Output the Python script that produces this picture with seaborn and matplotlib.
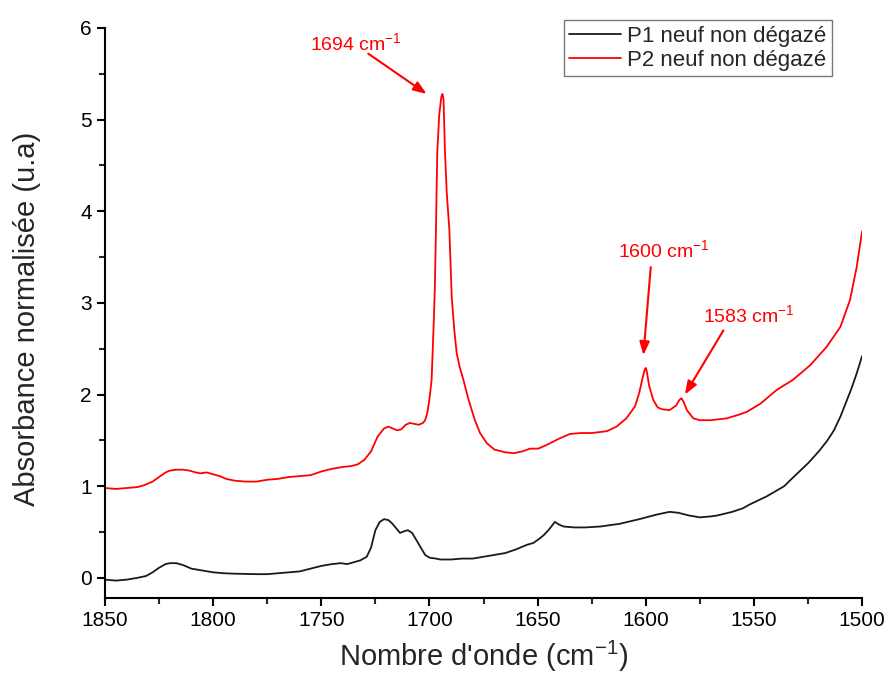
import numpy as np
import pandas as pd
import seaborn as sns
import matplotlib.pyplot as plt
from matplotlib.ticker import MultipleLocator

# nombre d'onde (cm-1) / absorbance, P2 (rouge)
wn_p2 = [1850, 1845, 1840, 1835, 1832, 1828, 1825, 1822, 1820, 1817, 1814, 1811,
         1808, 1806, 1803, 1800, 1797, 1794, 1790, 1785, 1780, 1775, 1770, 1765,
         1760, 1755, 1750, 1745, 1740, 1736, 1733, 1730, 1727, 1724, 1721, 1719,
         1717, 1715, 1713, 1711, 1709, 1707, 1705, 1703, 1702, 1701, 1700, 1699,
         1698, 1697.5, 1697, 1696.4, 1695.5, 1694.5, 1694, 1693.5, 1692.8, 1692,
         1690.8, 1689.7, 1688.5, 1687.4, 1686, 1684.3, 1682, 1679, 1676.6, 1673.5,
         1670, 1665, 1661, 1657, 1653.5, 1649.7, 1645.8, 1640, 1635, 1630, 1625,
         1618, 1613.5, 1609, 1605, 1603, 1601.5, 1600.5, 1600, 1599.5, 1598.5,
         1596.5, 1594.5, 1592.5, 1589, 1586, 1584.5, 1583.5, 1582.5, 1581, 1578,
         1575, 1570, 1562.6, 1557, 1553.4, 1547, 1543, 1539.5, 1532, 1524, 1516.4,
         1510, 1505.6, 1502.5, 1500]
abs_p2 = [0.98, 0.97, 0.98, 0.99, 1.01, 1.05, 1.10, 1.15, 1.17, 1.18, 1.18, 1.17,
          1.15, 1.14, 1.15, 1.13, 1.11, 1.08, 1.06, 1.05, 1.05, 1.07, 1.08, 1.10,
          1.11, 1.12, 1.16, 1.19, 1.21, 1.22, 1.24, 1.29, 1.38, 1.54, 1.63, 1.65,
          1.63, 1.61, 1.62, 1.67, 1.69, 1.68, 1.67, 1.69, 1.72, 1.80, 1.95, 2.16,
          2.80, 3.17, 3.80, 4.63, 5.05, 5.25, 5.28, 5.22, 4.63, 4.20,
          3.80, 3.06, 2.70, 2.45, 2.30, 2.16, 1.95, 1.72, 1.58, 1.47,
          1.40, 1.37, 1.36, 1.38, 1.41, 1.41, 1.45, 1.52, 1.57, 1.58, 1.58,
          1.60, 1.65, 1.74, 1.87, 2.02, 2.18, 2.27, 2.29, 2.25, 2.10,
          1.94, 1.86, 1.84, 1.83, 1.88, 1.94, 1.96, 1.92, 1.83, 1.74,
          1.72, 1.72, 1.74, 1.78, 1.81, 1.90, 1.98, 2.05, 2.16, 2.32, 2.52,
          2.74, 3.03, 3.39, 3.78]

# P1 (noir)
wn_p1 = [1850, 1845, 1840, 1835, 1831, 1828, 1825, 1822, 1820, 1817, 1814, 1810,
         1805, 1800, 1795, 1790, 1780, 1775, 1770, 1765, 1760, 1755, 1750, 1745,
         1741, 1738, 1735, 1732, 1729, 1727, 1725, 1723, 1721, 1719, 1717.5, 1715,
         1713.6, 1711.5, 1710, 1708, 1706, 1704, 1702, 1700, 1697, 1695, 1690,
         1685, 1680, 1675, 1670, 1665, 1660, 1655, 1652, 1649, 1647, 1645, 1642,
         1640, 1638, 1633, 1628, 1621, 1612, 1603, 1595, 1589, 1585, 1580, 1575,
         1570, 1567, 1560, 1555, 1552, 1544, 1536, 1533, 1525, 1520, 1516, 1513,
         1510, 1507, 1505, 1502.5, 1500]
abs_p1 = [-0.02, -0.03, -0.02, 0.00, 0.02, 0.06, 0.11, 0.15, 0.16, 0.16, 0.14, 0.10,
          0.08, 0.06, 0.05, 0.045, 0.04, 0.04, 0.05, 0.06, 0.07, 0.10, 0.13, 0.15,
          0.16, 0.15, 0.17, 0.19, 0.23, 0.33, 0.52, 0.61, 0.64, 0.63, 0.60, 0.53,
          0.49, 0.51, 0.52, 0.49, 0.41, 0.33, 0.25, 0.22, 0.21, 0.20, 0.20,
          0.21, 0.21, 0.23, 0.25, 0.27, 0.31, 0.36, 0.38, 0.43, 0.47, 0.52, 0.61,
          0.58, 0.56, 0.55, 0.55, 0.56, 0.59, 0.64, 0.69, 0.72, 0.71, 0.68, 0.66,
          0.67, 0.68, 0.72, 0.76, 0.80, 0.89, 1.00, 1.07, 1.25, 1.38, 1.50, 1.61,
          1.76, 1.94, 2.06, 2.23, 2.42]

labels = ["P1 neuf non dégazé", "P2 neuf non dégazé"]
peaks = [1694, 1600, 1583]

df = pd.concat([
    pd.DataFrame({"wn": wn_p1, "A": abs_p1, "echantillon": labels[0]}),
    pd.DataFrame({"wn": wn_p2, "A": abs_p2, "echantillon": labels[1]}),
])

sns.set_style("ticks")
plt.rcParams["font.family"] = ["Liberation Sans", "DejaVu Sans"]
plt.rcParams["mathtext.default"] = "regular"

fig, ax = plt.subplots(figsize=(8.86, 6.76), dpi=100)
fig.subplots_adjust(left=0.1185, right=0.973, bottom=0.1154, top=0.9586)

sns.lineplot(data=df, x="wn", y="A", hue="echantillon",
             palette=["#1a1a1a", "#ff0000"], linewidth=1.3, ax=ax)

ax.set_xlim(1850, 1500)
ax.set_ylim(-0.22, 6)
ax.xaxis.set_major_locator(MultipleLocator(50))
ax.xaxis.set_minor_locator(MultipleLocator(25))
ax.yaxis.set_major_locator(MultipleLocator(1))
ax.yaxis.set_minor_locator(MultipleLocator(0.5))
ax.tick_params(which="major", direction="out", length=6, width=1.5, labelsize=15, colors="black")
ax.tick_params(which="minor", direction="out", length=4, width=1.5)
sns.despine(ax=ax)
for s in ["left", "bottom"]:
    ax.spines[s].set_linewidth(1.5)
    ax.spines[s].set_color("black")

ax.set_xlabel("Nombre d'onde (cm$^{-1}$)", fontsize=21)
ax.set_ylabel("Absorbance normalisée (u.a)", fontsize=21)
ax.xaxis.set_label_coords(0.5, -0.072)
ax.yaxis.set_label_coords(-0.085, 0.49)

# annotations des pics
txt_pos = [(1755, 5.76), (1613, 3.50), (1573.5, 2.79)]
tails = [(1728.3, 5.72), (1597.7, 3.39), (1564.1, 2.70)]
heads = [(1701.3, 5.28), (1601.1, 2.43), (1581.9, 2.00)]
for p, tp, t, h in zip(peaks, txt_pos, tails, heads):
    ax.text(tp[0], tp[1], f"{p} cm$^{{-1}}$", color="#ff0000", fontsize=14,
            ha="left", va="baseline")
    ax.annotate("", xy=h, xytext=t,
                arrowprops=dict(arrowstyle="-|>,head_length=0.8,head_width=0.3",
                                color="#ff0000", lw=1.5, shrinkA=0, shrinkB=0))

leg = ax.legend(loc="upper right", bbox_to_anchor=(832 / 886, 1 - 20 / 676),
                bbox_transform=fig.transFigure, borderaxespad=0, fontsize=16,
                frameon=True, fancybox=False, handlelength=2.3, handletextpad=0.3,
                labelspacing=0.15, borderpad=0.25, title=None)
leg.get_frame().set_edgecolor("#555555")
leg.get_frame().set_linewidth(1.0)
for line in leg.get_lines():
    line.set_linewidth(1.3)

fig.savefig("out.png", dpi=100)
